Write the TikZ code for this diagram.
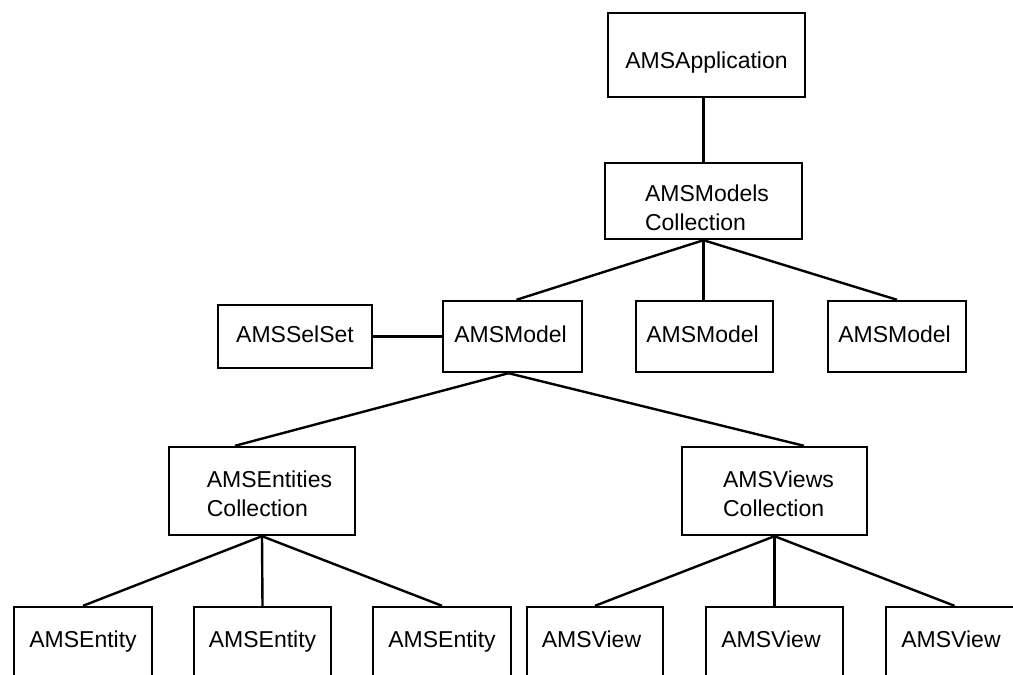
\documentclass[tikz,border=0pt]{standalone}
\usepackage{fontspec}
\setmainfont{Liberation Sans}
\begin{document}
\begin{tikzpicture}[x=1pt,y=-1pt,
  box/.style={draw=black, line width=2.4pt, rectangle, inner sep=0pt},
  lbl/.style={font=\fontsize{23}{29}\selectfont, inner sep=0pt, text=black},
  one/.style={lbl, text height=16pt, text depth=5pt},
  two/.style={lbl, align=left},
  conn/.style={draw=black, line width=2.4pt}]
\useasboundingbox (0,0) rectangle (1013,675);
\clip (0,0) rectangle (1013,675);
% top levels
\node[box, minimum width=197pt, minimum height=84pt,
  label={[one, yshift=-7.5pt]center:AMSApplication}] (app) at (706.5,55) {};
\node[box, minimum width=197pt, minimum height=76pt,
  label={[two, xshift=3.5pt, yshift=-6.5pt]center:{AMSModels\\Collection}}] (models) at (703.5,201) {};
% models row
\node[box, minimum width=154pt, minimum height=63pt,
  label={[one]center:AMSSelSet}] (selset) at (295,336.5) {};
\node[box, minimum width=139pt, minimum height=71pt,
  label={[one, xshift=-2pt]center:AMSModel}] (m1) at (512.5,336.5) {};
\node[box, minimum width=137pt, minimum height=71pt,
  label={[one, xshift=-2pt]center:AMSModel}] (m2) at (704.5,336.5) {};
\node[box, minimum width=138pt, minimum height=71pt,
  label={[one, xshift=-2.5pt]center:AMSModel}] (m3) at (897,336.5) {};
% collections
\node[box, minimum width=186pt, minimum height=88pt,
  label={[two, xshift=7.5pt, yshift=-2.5pt]center:{AMSEntities\\Collection}}] (ent) at (262,491) {};
\node[box, minimum width=185pt, minimum height=88pt,
  label={[two, xshift=4pt, yshift=-2.5pt]center:{AMSViews\\Collection}}] (views) at (774.5,491) {};
% leaves
\node[box, minimum width=138pt, minimum height=71pt,
  label={[one, yshift=1pt]center:AMSEntity}] (e1) at (83,642.5) {};
\node[box, minimum width=137pt, minimum height=71pt,
  label={[one, yshift=1pt]center:AMSEntity}] (e2) at (262.5,642.5) {};
\node[box, minimum width=138pt, minimum height=71pt,
  label={[one, yshift=1pt]center:AMSEntity}] (e3) at (442,642.5) {};
\node[box, minimum width=136pt, minimum height=71pt,
  label={[one, xshift=-3.5pt, yshift=1pt]center:AMSView}] (v1) at (595,642.5) {};
\node[box, minimum width=137pt, minimum height=71pt,
  label={[one, xshift=-3.5pt, yshift=1pt]center:AMSView}] (v2) at (774.5,642.5) {};
\node[box, minimum width=137pt, minimum height=71pt,
  label={[one, xshift=-3.5pt, yshift=1pt]center:AMSView}] (v3) at (954.5,642.5) {};
% connectors
\draw[conn] (app.south -| models.north) -- (models.north);
\draw[conn] (models.south) -- ([xshift=4pt]m1.north);
\draw[conn] (models.south) -- (m2.north -| models.south);
\draw[conn] (models.south) -- (m3.north);
\draw[conn] (selset.east) -- (m1.west);
\draw[conn] ([xshift=-4pt]m1.south) -- ([xshift=-27pt]ent.north);
\draw[conn] ([xshift=-4pt]m1.south) -- ([xshift=29.5pt]views.north);
\draw[conn] (ent.south) -- (e1.north);
\draw[conn] (ent.south) -- (e2.north);
\draw[conn] (ent.south) -- (e3.north);
\draw[conn] (views.south) -- (v1.north);
\draw[conn] (views.south) -- (v2.north);
\draw[conn] (views.south) -- (v3.north);
\end{tikzpicture}
\end{document}
